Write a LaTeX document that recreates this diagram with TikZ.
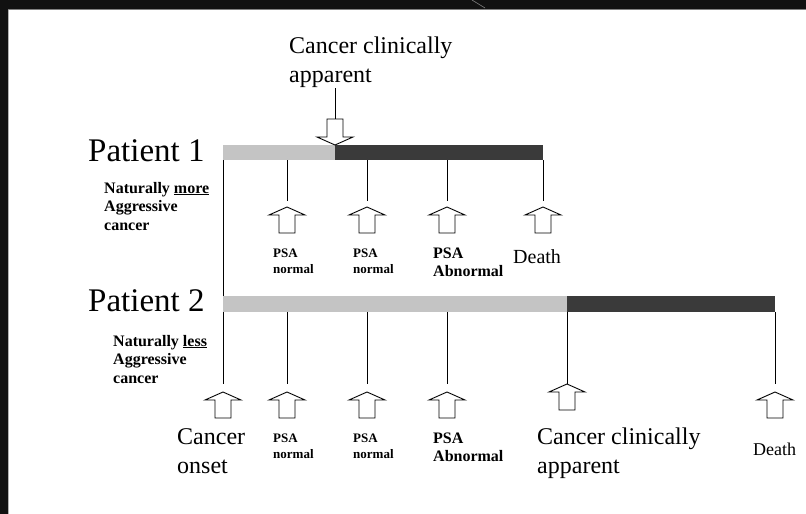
\documentclass[tikz,border=0pt]{standalone}
\usepackage{fontspec}
\setmainfont{Liberation Serif}

\definecolor{lightbar}{RGB}{196,196,196}
\definecolor{darkbar}{RGB}{58,58,58}
\definecolor{framebg}{RGB}{17,17,17}

\tikzset{
  tick/.style={line width=0.9pt},
  bar/.style={inner sep=0pt, anchor=north west},
  patient/.style={font=\fontsize{33}{38}\selectfont, inner sep=0pt, anchor=base west},
  bigtext/.style={font=\fontsize{24}{29}\selectfont, align=left, inner sep=0pt, anchor=base west},
  kind/.style={font=\fontsize{16}{18.5}\selectfont\bfseries, align=left, inner sep=0pt, anchor=base west},
  psa/.style={font=\fontsize{13}{15.5}\selectfont\bfseries, align=left, inner sep=0pt, anchor=base west},
  psabad/.style={font=\fontsize{16}{17.5}\selectfont\bfseries, align=left, inner sep=0pt, anchor=base west},
  death/.style={font=\fontsize{#1}{#1}\selectfont, inner sep=0pt, anchor=base west},
  pics/uparrow/.style={code={
    \draw[line width=0.9pt, fill=white] (0,0) -- (18,8) -- (8,8) -- (8,26)
      -- (-8,26) -- (-8,8) -- (-18,8) -- cycle;
  }}
}

\begin{document}
\begin{tikzpicture}[x=1pt, y=-1pt]
\useasboundingbox (0,0) rectangle (806,514);
\fill[white] (0,0) rectangle (806,514);
\fill[framebg] (0,0) rectangle (806,9);
\fill[framebg] (0,0) rectangle (8,514);
\draw[gray, line width=1pt] (8,9.5) -- (806,9.5);
\draw[gray!60, line width=0.6pt] (8.3,9.5) -- (8.3,514);
\draw[gray, line width=0.6pt] (472,0) -- (485,8);

% Patient 1 (multi-line texts sit on their last baseline)
\node[patient] (p1) at (88,161) {Patient 1};
\node[kind] (k1) at (104,230) {Naturally \underline{more}\\Aggressive\\cancer};
\node[bigtext] (app1) at (289,82) {Cancer clinically\\apparent};

\coordinate (o1) at (223,160);
\coordinate (o2) at (223,384);
\coordinate (t1a) at (287,160);
\coordinate (t1b) at (287,201);
\coordinate (t2a) at (367,160);
\coordinate (t2b) at (367,201);
\coordinate (t3a) at (447,160);
\coordinate (t3b) at (447,201);
\coordinate (t4a) at (543,160);
\coordinate (t4b) at (543,201);
\coordinate (c1) at (335,88);
\coordinate (c2) at (335,120);

\draw[tick] (o1) -- (o2);
\draw[tick] (t1a) -- (t1b);
\draw[tick] (t2a) -- (t2b);
\draw[tick] (t3a) -- (t3b);
\draw[tick] (t4a) -- (t4b);
\draw[tick] (c1) -- (c2);

\node[bar, fill=lightbar, minimum width=112pt, minimum height=15pt] (b1a) at (223,145) {};
\node[bar, fill=darkbar, minimum width=208pt, minimum height=15pt] (b1b) at (335,145) {};
\pic[rotate=180] at (b1b.north west) {uparrow};

\pic at (287,207) {uparrow};
\pic at (367,207) {uparrow};
\pic at (447,207) {uparrow};
\pic at (543,207) {uparrow};

\node[psa] (n1) at (273,273) {PSA\\normal};
\node[psa] (n2) at (353,273) {PSA\\normal};
\node[psabad] (n3) at (433,276) {PSA\\Abnormal};
\node[death=20] (d1) at (513,263) {Death};

% Patient 2
\node[patient] (p2) at (88,311) {Patient 2};
\node[kind] (k2) at (113,383) {Naturally \underline{less}\\Aggressive\\cancer};

\coordinate (s1a) at (287,312);
\coordinate (s1b) at (287,384);
\coordinate (s2a) at (367,312);
\coordinate (s2b) at (367,384);
\coordinate (s3a) at (447,312);
\coordinate (s3b) at (447,384);
\coordinate (s4a) at (567,312);
\coordinate (s4b) at (567,384);
\coordinate (s5a) at (775,312);
\coordinate (s5b) at (775,384);

\draw[tick] (s1a) -- (s1b);
\draw[tick] (s2a) -- (s2b);
\draw[tick] (s3a) -- (s3b);
\draw[tick] (s4a) -- (s4b);
\draw[tick] (s5a) -- (s5b);

\node[bar, fill=lightbar, minimum width=344pt, minimum height=16pt] (b2a) at (223,296) {};
\node[bar, fill=darkbar, minimum width=208pt, minimum height=16pt] (b2b) at (567,296) {};

\pic at (223,392) {uparrow};
\pic at (287,392) {uparrow};
\pic at (367,392) {uparrow};
\pic at (447,392) {uparrow};
\pic at (s4b) {uparrow};
\pic at (775,392) {uparrow};

\node[bigtext] (on) at (177,473) {Cancer\\onset};
\node[psa] (m1) at (273,458) {PSA\\normal};
\node[psa] (m2) at (353,458) {PSA\\normal};
\node[psabad] (m3) at (433,461) {PSA\\Abnormal};
\node[bigtext] (app2) at (537,473) {Cancer clinically\\apparent};
\node[death=18] (d2) at (753,455) {Death};

\end{tikzpicture}
\end{document}
